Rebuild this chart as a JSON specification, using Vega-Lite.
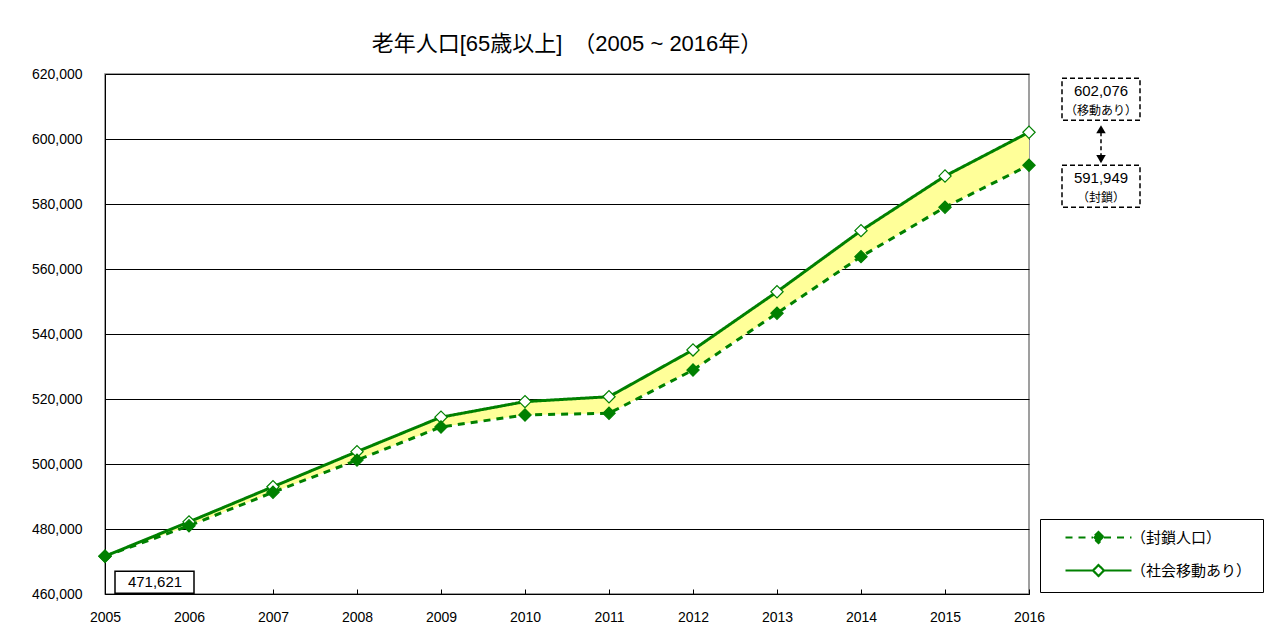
{
  "$schema": "https://vega.github.io/schema/vega-lite/v6.json",
  "width": 924,
  "height": 520,
  "autosize": {"type": "none"},
  "padding": {"left": 105, "top": 74, "right": 243, "bottom": 42},
  "background": "#ffffff",
  "title": {
    "text": "老年人口[65歳以上]　（2005 ~ 2016年）",
    "fontSize": 22,
    "fontWeight": "normal",
    "anchor": "middle",
    "offset": 11,
    "color": "#000000"
  },
  "config": {
    "font": "Liberation Sans, Noto Sans CJK JP",
    "view": {"stroke": "#808080", "strokeWidth": 1.5},
    "axis": {"labelColor": "#000000", "domainColor": "#000000", "tickColor": "#000000", "labelFontSize": 14, "labelFont": "Liberation Sans, Noto Sans CJK JP"},
    "text": {"font": "Liberation Sans, Noto Sans CJK JP", "color": "#000000"}
  },
  "datasets": {
    "pop": [
      {"year": 2005, "open": 471621, "closed": 471621},
      {"year": 2006, "open": 482200, "closed": 481000},
      {"year": 2007, "open": 493000, "closed": 491300},
      {"year": 2008, "open": 503800, "closed": 501200},
      {"year": 2009, "open": 514400, "closed": 511400},
      {"year": 2010, "open": 519200, "closed": 515100},
      {"year": 2011, "open": 520700, "closed": 515600},
      {"year": 2012, "open": 535100, "closed": 528900},
      {"year": 2013, "open": 553000, "closed": 546400},
      {"year": 2014, "open": 571800, "closed": 563800},
      {"year": 2015, "open": 588600, "closed": 579000},
      {"year": 2016, "open": 602076, "closed": 591949}
    ]
  },
  "data": {"name": "pop"},
  "layer": [
    {
      "mark": {"type": "area", "fill": "#FFFF99", "opacity": 1},
      "encoding": {
        "x": {
          "field": "year", "type": "quantitative", "title": null,
          "scale": {"domain": [2005, 2016], "nice": false, "zero": false},
          "axis": {"values": [2005, 2006, 2007, 2008, 2009, 2010, 2011, 2012, 2013, 2014, 2015, 2016], "format": "d", "title": null, "grid": false, "tickSize": -5, "labelPadding": 21, "labelFlush": false, "labelFontSize": 14, "labelOverlap": false}
        },
        "y": {
          "field": "open", "type": "quantitative", "title": null,
          "scale": {"domain": [460000, 620000], "nice": false, "zero": false},
          "axis": {"values": [460000, 480000, 500000, 520000, 540000, 560000, 580000, 600000, 620000], "format": ",d", "title": null, "grid": true, "gridColor": "#000000", "gridWidth": 1, "gridOpacity": 1, "ticks": false, "labelPadding": 23, "labelFontSize": 14, "labelFlush": false, "labelOverlap": false}
        },
        "y2": {"field": "closed"}
      }
    },
    {
      "transform": [{"fold": ["closed", "open"], "as": ["series", "value"]}],
      "mark": {"type": "line", "color": "#008000", "strokeWidth": 3},
      "encoding": {
        "x": {"field": "year", "type": "quantitative", "title": null},
        "y": {"field": "value", "type": "quantitative", "title": null},
        "strokeDash": {
          "field": "series", "type": "nominal",
          "scale": {"domain": ["closed", "open"], "range": [[7, 6], [1, 0]]},
          "legend": {
            "title": null, "orient": "none", "legendX": 935, "legendY": 445, "direction": "vertical",
            "symbolType": "M-6.6,0H-1.1M1.1,0H6.6M0,-1.1L1.1,0L0,1.1L-1.1,0Z",
            "symbolSize": 100, "symbolStrokeWidth": 2.2, "symbolStrokeColor": "#008000",
            "symbolOffset": 40, "labelOffset": 25, "labelFontSize": 15, "labelColor": "#000000",
            "labelExpr": "datum.value == 'closed' ? '（封鎖人口）' : '（社会移動あり）'",
            "strokeColor": "#000000", "fillColor": "#ffffff", "padding": 11, "rowPadding": 12, "cornerRadius": 0,
            "encode": {"symbols": {"update": {"stroke": {"value": "#008000"}, "strokeWidth": {"value": 2.2}}}}
          }
        }
      }
    },
    {
      "transform": [{"fold": ["open", "closed"], "as": ["series", "value"]}],
      "mark": {"type": "point", "shape": "diamond", "filled": true, "stroke": "#008000", "strokeWidth": 1.2, "size": 150, "opacity": 1},
      "encoding": {
        "x": {"field": "year", "type": "quantitative", "title": null},
        "y": {"field": "value", "type": "quantitative", "title": null},
        "fill": {
          "field": "series", "type": "nominal",
          "scale": {"domain": ["closed", "open"], "range": ["#008000", "#ffffff"]},
          "legend": {
            "title": null, "orient": "none", "legendX": 935, "legendY": 445, "direction": "vertical",
            "symbolType": "M-6.6,0H-1.1M1.1,0H6.6M0,-1.1L1.1,0L0,1.1L-1.1,0Z",
            "symbolSize": 100, "symbolStrokeWidth": 2.2, "symbolStrokeColor": "#008000",
            "symbolOffset": 40, "labelOffset": 25, "labelFontSize": 15, "labelColor": "#000000",
            "labelExpr": "datum.value == 'closed' ? '（封鎖人口）' : '（社会移動あり）'",
            "strokeColor": "#000000", "fillColor": "#ffffff", "padding": 11, "rowPadding": 12, "cornerRadius": 0,
            "encode": {"symbols": {"update": {"stroke": {"value": "#008000"}, "strokeWidth": {"value": 2.2}}}}
          }
        }
      }
    },
    {
      "transform": [{"filter": "datum.year == 2016"}],
      "mark": {"type": "rect", "fill": "#ffffff", "stroke": "#000000", "strokeWidth": 1.5, "strokeDash": [5, 3], "xOffset": 33, "x2Offset": 111, "yOffset": -54, "y2Offset": -12},
      "encoding": {
        "x": {"field": "year", "type": "quantitative", "title": null},
        "x2": {"field": "year"},
        "y": {"field": "open", "type": "quantitative", "title": null},
        "y2": {"field": "open"}
      }
    },
    {
      "transform": [{"filter": "datum.year == 2016"}],
      "mark": {"type": "rect", "fill": "#ffffff", "stroke": "#000000", "strokeWidth": 1.5, "strokeDash": [5, 3], "xOffset": 33, "x2Offset": 111, "yOffset": 0, "y2Offset": 42},
      "encoding": {
        "x": {"field": "year", "type": "quantitative", "title": null},
        "x2": {"field": "year"},
        "y": {"field": "closed", "type": "quantitative", "title": null},
        "y2": {"field": "closed"}
      }
    },
    {
      "transform": [{"filter": "datum.year == 2016"}],
      "mark": {"type": "text", "dx": 72, "dy": -41, "fontSize": 15, "align": "center", "baseline": "middle"},
      "encoding": {
        "x": {"field": "year", "type": "quantitative", "title": null},
        "y": {"field": "open", "type": "quantitative", "title": null},
        "text": {"field": "open", "type": "quantitative", "format": ",d"}
      }
    },
    {
      "transform": [{"filter": "datum.year == 2016"}],
      "mark": {"type": "text", "text": "（移動あり）", "dx": 72, "dy": -21, "fontSize": 12, "align": "center", "baseline": "middle"},
      "encoding": {
        "x": {"field": "year", "type": "quantitative", "title": null},
        "y": {"field": "open", "type": "quantitative", "title": null}
      }
    },
    {
      "transform": [{"filter": "datum.year == 2016"}],
      "mark": {"type": "text", "dx": 72, "dy": 13, "fontSize": 15, "align": "center", "baseline": "middle"},
      "encoding": {
        "x": {"field": "year", "type": "quantitative", "title": null},
        "y": {"field": "closed", "type": "quantitative", "title": null},
        "text": {"field": "closed", "type": "quantitative", "format": ",d"}
      }
    },
    {
      "transform": [{"filter": "datum.year == 2016"}],
      "mark": {"type": "text", "text": "（封鎖）", "dx": 72, "dy": 33, "fontSize": 12, "align": "center", "baseline": "middle"},
      "encoding": {
        "x": {"field": "year", "type": "quantitative", "title": null},
        "y": {"field": "closed", "type": "quantitative", "title": null}
      }
    },
    {
      "transform": [{"filter": "datum.year == 2016"}],
      "mark": {"type": "rule", "stroke": "#000000", "strokeWidth": 1.5, "strokeDash": [4, 3], "xOffset": 72, "yOffset": 0, "y2Offset": -6},
      "encoding": {
        "x": {"field": "year", "type": "quantitative", "title": null},
        "y": {"field": "open", "type": "quantitative", "title": null},
        "y2": {"field": "closed"}
      }
    },
    {
      "transform": [{"filter": "datum.year == 2016"}],
      "mark": {"type": "point", "shape": "triangle-up", "filled": true, "color": "#000000", "size": 90, "opacity": 1, "xOffset": 72, "yOffset": -3},
      "encoding": {
        "x": {"field": "year", "type": "quantitative", "title": null},
        "y": {"field": "open", "type": "quantitative", "title": null}
      }
    },
    {
      "transform": [{"filter": "datum.year == 2016"}],
      "mark": {"type": "point", "shape": "triangle-down", "filled": true, "color": "#000000", "size": 90, "opacity": 1, "xOffset": 72, "yOffset": -6},
      "encoding": {
        "x": {"field": "year", "type": "quantitative", "title": null},
        "y": {"field": "closed", "type": "quantitative", "title": null}
      }
    },
    {
      "transform": [{"filter": "datum.year == 2005"}],
      "mark": {"type": "rect", "fill": "#ffffff", "stroke": "#000000", "strokeWidth": 1.5, "xOffset": 10, "x2Offset": 89, "yOffset": 15, "y2Offset": 37},
      "encoding": {
        "x": {"field": "year", "type": "quantitative", "title": null},
        "x2": {"field": "year"},
        "y": {"field": "open", "type": "quantitative", "title": null},
        "y2": {"field": "open"}
      }
    },
    {
      "transform": [{"filter": "datum.year == 2005"}],
      "mark": {"type": "text", "dx": 50, "dy": 26, "fontSize": 15, "align": "center", "baseline": "middle"},
      "encoding": {
        "x": {"field": "year", "type": "quantitative", "title": null},
        "y": {"field": "open", "type": "quantitative", "title": null},
        "text": {"field": "open", "type": "quantitative", "format": ",d"}
      }
    }
  ]
}
